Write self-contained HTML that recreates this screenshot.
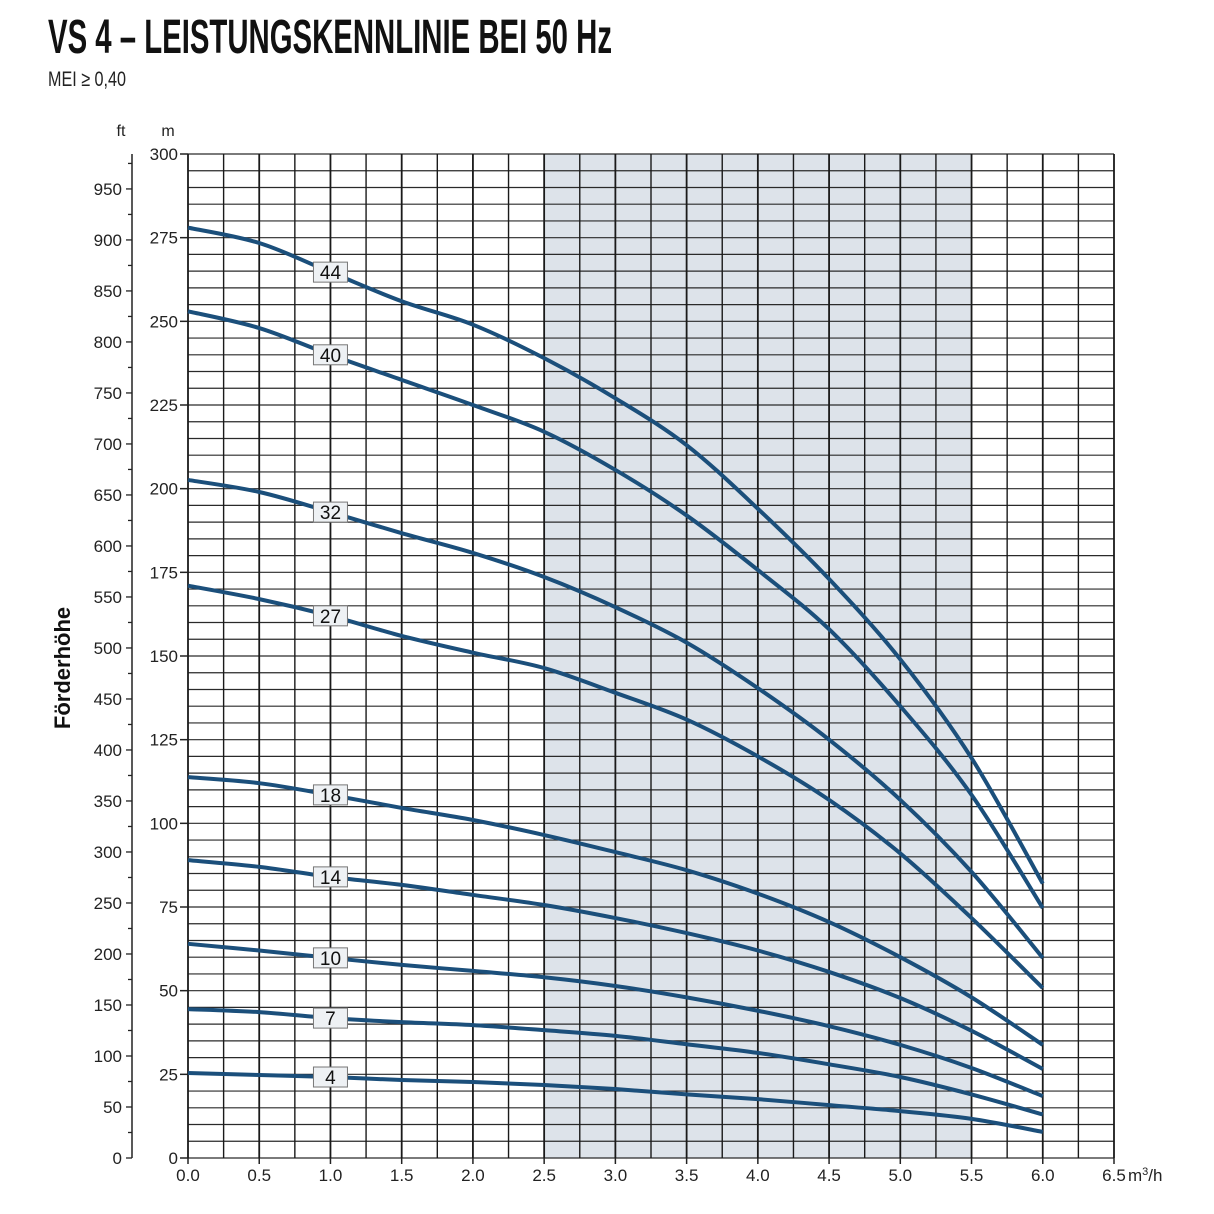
<!DOCTYPE html>
<html><head><meta charset="utf-8"><style>
html,body{margin:0;padding:0;background:#fff;}
svg{display:block;font-family:"Liberation Sans Narrow","Liberation Sans",sans-serif;}
</style></head><body>
<svg id="chart" width="1214" height="1214" viewBox="0 0 1214 1214" xmlns="http://www.w3.org/2000/svg">
<text x="48" y="53" font-size="48" font-weight="bold" fill="#111" textLength="564" lengthAdjust="spacingAndGlyphs">VS 4 – LEISTUNGSKENNLINIE BEI 50 Hz</text>
<text x="48" y="86" font-size="21" fill="#222" textLength="78" lengthAdjust="spacingAndGlyphs">MEI ≥ 0,40</text>
<text transform="translate(70,668) rotate(-90)" text-anchor="middle" font-size="22" font-weight="bold" fill="#111">Förderhöhe</text>
<text x="121" y="136" text-anchor="middle" font-size="16" fill="#222">ft</text>
<text x="168" y="136" text-anchor="middle" font-size="16" fill="#222">m</text>
<g id="g-shade"></g><g id="g-grid"></g><g id="g-axes"></g><g id="g-curves"></g><g id="g-labels"></g>
</svg>
<script>
const flows = [0,0.5,1.0,1.5,2.0,2.5,3.0,3.5,4.0,4.5,5.0,5.5,6.0];
const stages = ["44","40","32","27","18","14","10","7","4"];
const head44 = [278,273.4,264.7,256,249,239,227,213,194,173,149,119.5,82];
const head40 = [253,248,240,232.5,225,217,205.6,192,175.7,158,135,108.5,74.7];
const head32 = [202.6,199,193,186.7,180.8,173.6,164.6,154,140.4,125,107,85.5,59.8];
const head27 = [171,167,162,156,151,146.4,139,131,120,107,91,71.7,50.8];
const head18 = [113.8,112,108.5,104.6,101,96.5,91.4,86,79,70.5,60,48,33.8];
const head14 = [89,87,84,81.6,78.6,75.6,71.7,67.2,62,55.6,47.8,38,26.6];
const head10 = [64,62,59.8,57.7,55.9,54,51.4,48,44,39.4,33.8,26.9,18.5];
const head7 = [44.5,43.6,41.8,40.6,39.7,38.2,36.5,34,31.4,28,24.2,19,13];
const head4 = [25.4,24.8,24.2,23.3,22.7,21.8,20.6,19,17.6,15.8,14,11.7,7.8];
const series = [head44,head40,head32,head27,head18,head14,head10,head7,head4];
const xTicks = ["0.0","0.5","1.0","1.5","2.0","2.5","3.0","3.5","4.0","4.5","5.0","5.5","6.0","6.5"];
const mTicks = [0,25,50,75,100,125,150,175,200,225,250,275,300];
const ftTicks = [0,50,100,150,200,250,300,350,400,450,500,550,600,650,700,750,800,850,900,950];
const shadeRange = [2.5,5.5];
const labelFlow = 1.0;

const X0=188,X1=1114,Y0=1158,Y1=154;
const xs = q => X0 + q/6.5*(X1-X0);
const ys = m => Y0 - m/300*(Y0-Y1);
const ysFt = f => ys(f*0.3048);
const NS="http://www.w3.org/2000/svg";
function mk(tag, attrs, parent){const e=document.createElementNS(NS,tag);for(const k in attrs)e.setAttribute(k,attrs[k]);parent.appendChild(e);return e;}

const gShade=document.getElementById('g-shade');
const sh=mk('rect',{x:xs(shadeRange[0]),y:Y1,width:xs(shadeRange[1])-xs(shadeRange[0]),height:Y0-Y1,fill:'#dde3ea'},gShade);



const gGrid=document.getElementById('g-grid');
for(let m=0;m<=300;m+=5){
  const l=mk('line',{x1:X0,x2:X1,y1:ys(m),y2:ys(m),stroke:'#2a2a2a','stroke-width':1.2},gGrid);
  
  
}
for(let i=0;i<=26;i++){
  const q=i*0.25;
  const l=mk('line',{x1:xs(q),x2:xs(q),y1:Y1,y2:Y0,stroke:'#1a1a1a','stroke-width':(i%2==0)?1.8:1.4},gGrid);
  
  
}
const gAx=document.getElementById('g-axes');
mTicks.forEach(m=>{
  const t=mk('line',{x1:180,x2:X0,y1:ys(m),y2:ys(m),stroke:'#222','stroke-width':1.5},gAx);
  
  
  const tx=mk('text',{x:178,y:ys(m)+6,'text-anchor':'end','font-size':17,fill:'#222'},gAx);
  tx.textContent=m;
  
  
});
const ax=mk('line',{x1:132,x2:132,y1:Y1,y2:Y0,stroke:'#222','stroke-width':1.5},gAx);


for(let f=0;f<=975;f+=25){
  const t=mk('line',{x1:(f%50==0)?126:128,x2:132,y1:ysFt(f),y2:ysFt(f),stroke:'#222','stroke-width':1.3},gAx);
  
  
}
ftTicks.forEach(f=>{
  const tx=mk('text',{x:122,y:ysFt(f)+6,'text-anchor':'end','font-size':17,fill:'#222'},gAx);
  tx.textContent=f;
  
  
});
xTicks.forEach((s,i)=>{
  const q=parseFloat(s);
  const t=mk('line',{x1:xs(q),x2:xs(q),y1:Y0,y2:Y0+6,stroke:'#222','stroke-width':1.5},gAx);
  
  
  const tx=mk('text',{x:xs(q),y:1181,'text-anchor':'middle','font-size':17,fill:'#222'},gAx);
  tx.textContent=s;
  
  
});
const unit=mk('text',{x:1128,y:1181,'font-size':17,fill:'#222'},gAx);
unit.innerHTML='m<tspan dy="-6" font-size="11">3</tspan><tspan dy="6">/h</tspan>';



function pathFor(vals){
  const P=vals.map((v,i)=>[xs(flows[i]),ys(v)]);
  let d=`M${P[0][0]},${P[0][1]}`;
  for(let i=0;i<P.length-1;i++){
    const p0=P[Math.max(0,i-1)],p1=P[i],p2=P[i+1],p3=P[Math.min(P.length-1,i+2)];
    const c1=[p1[0]+(p2[0]-p0[0])/6,p1[1]+(p2[1]-p0[1])/6];
    const c2=[p2[0]-(p3[0]-p1[0])/6,p2[1]-(p3[1]-p1[1])/6];
    d+=` C${c1[0]},${c1[1]} ${c2[0]},${c2[1]} ${p2[0]},${p2[1]}`;
  }
  return d;
}
const gC=document.getElementById('g-curves'),gL=document.getElementById('g-labels');
series.forEach((vals,k)=>{
  const p=mk('path',{d:pathFor(vals),fill:'none',stroke:'#1b4f7b','stroke-width':4,'stroke-linecap':'butt'},gC);
  
  
  const idx=flows.indexOf(labelFlow);
  const cx=xs(labelFlow),cy=ys(vals[idx]);
  const r=mk('rect',{x:cx-17,y:cy-10,width:34,height:20,fill:'#eef1f4',stroke:'#777','stroke-width':1},gL);
  
  
  const t=mk('text',{x:cx,y:cy+7,'text-anchor':'middle','font-size':19,fill:'#111'},gL);
  t.textContent=stages[k];
  
  
});
</script>
</body></html>
